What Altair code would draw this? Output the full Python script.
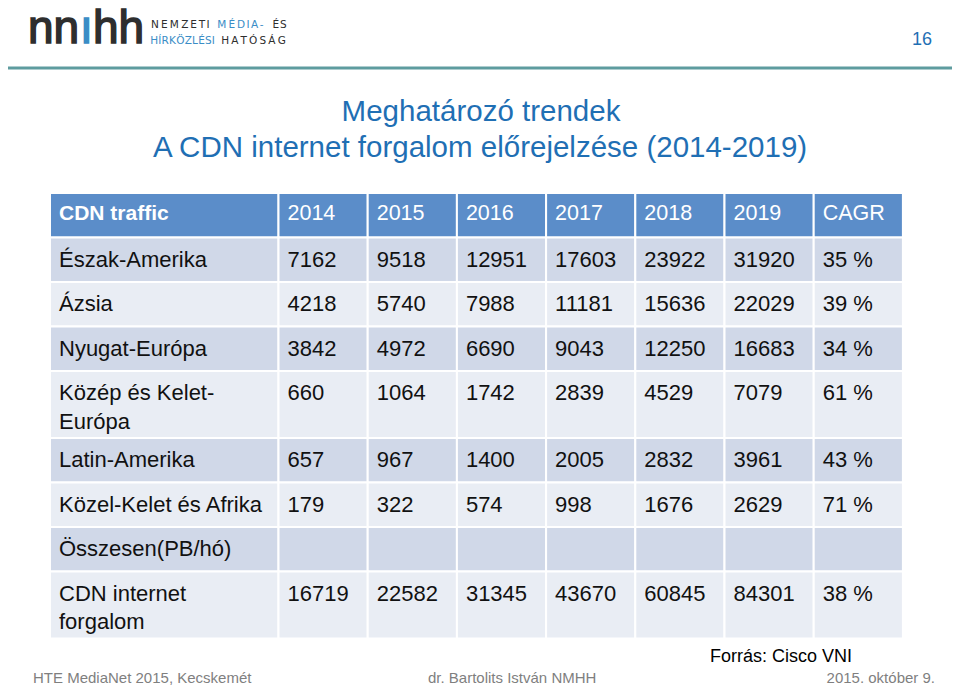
import altair as alt
import pandas as pd

# ---------------- data ----------------
columns = ["CDN traffic", "2014", "2015", "2016", "2017", "2018", "2019", "CAGR"]
regions = [
    ["Észak-Amerika"],
    ["Ázsia"],
    ["Nyugat-Európa"],
    ["Közép és Kelet-", "Európa"],
    ["Latin-Amerika"],
    ["Közel-Kelet és Afrika"],
    ["Összesen(PB/hó)"],
    ["CDN internet", "forgalom"],
]
v2014 = [7162, 4218, 3842, 660, 657, 179, None, 16719]
v2015 = [9518, 5740, 4972, 1064, 967, 322, None, 22582]
v2016 = [12951, 7988, 6690, 1742, 1400, 574, None, 31345]
v2017 = [17603, 11181, 9043, 2839, 2005, 998, None, 43670]
v2018 = [23922, 15636, 12250, 4529, 2832, 1676, None, 60845]
v2019 = [31920, 22029, 16683, 7079, 3961, 2629, None, 84301]
cagr = [35, 39, 34, 61, 43, 71, None, 38]

title_lines = ["Meghatározó trendek", "A CDN internet forgalom előrejelzése (2014-2019)"]
source_text = "Forrás: Cisco VNI"
footer_left = "HTE MediaNet 2015, Kecskemét"
footer_mid = "dr. Bartolits István NMHH"
footer_right = "2015. október 9."
page_no = "16"
logo_line1 = ["NEMZETI", "MÉDIA-", "ÉS"]
logo_line2 = ["HÍRKÖZLÉSI", "HATÓSÁG"]

# ---------------- layout ----------------
W, H = 944, 679
OFF = 8
TABLE_LEFT, TABLE_TOP = 50, 193
FIRST_COL_W, COL_W = 228.5, 89.2
ROW_H, ROW_H2 = 44.5, 67.0
HEADER_BLUE = "#5B8DC9"
BAND1, BAND2 = "#D0D8E8", "#E9EDF4"
TITLE_BLUE = "#1F6FB4"
LOGO_DARK, LOGO_BLUE = "#2E2E2E", "#3A8DC6"
FONT = "Liberation Sans"

col_edges = [TABLE_LEFT, TABLE_LEFT + FIRST_COL_W]
for _ in range(len(columns) - 1):
    col_edges.append(col_edges[-1] + COL_W)

row_heights = [ROW_H] + [ROW_H2 if len(r) > 1 else ROW_H for r in regions]
row_edges = [TABLE_TOP]
for h in row_heights:
    row_edges.append(row_edges[-1] + h)

series = [v2014, v2015, v2016, v2017, v2018, v2019]

cells = []
for r in range(len(row_heights)):
    fill = HEADER_BLUE if r == 0 else (BAND1 if r % 2 == 1 else BAND2)
    for c in range(len(columns)):
        cells.append(dict(x0=col_edges[c], x1=col_edges[c + 1],
                          y0=row_edges[r], y1=row_edges[r + 1], fill=fill))
cells_df = pd.DataFrame(cells)

header_txt = []
for c, name in enumerate(columns):
    header_txt.append(dict(t=name, x=col_edges[c] + 9, y=row_edges[0] + 21, c=c))
header_df = pd.DataFrame(header_txt)

body_txt = []
for r, lines in enumerate(regions):
    top = row_edges[r + 1]
    for li, line in enumerate(lines):
        body_txt.append(dict(t=line, x=col_edges[0] + 9, y=top + 22 + li * 28.5))
    for s_i, s in enumerate(series):
        if s[r] is not None:
            body_txt.append(dict(t=str(s[r]), x=col_edges[s_i + 1] + 9, y=top + 22))
    if cagr[r] is not None:
        body_txt.append(dict(t=f"{cagr[r]} %", x=col_edges[7] + 9, y=top + 22))
body_df = pd.DataFrame(body_txt)

xs = alt.Scale(domain=[OFF, OFF + W], nice=False, zero=False)
ys = alt.Scale(domain=[OFF, OFF + H], nice=False, zero=False, reverse=True)
X = lambda f: alt.X(f, type="quantitative", scale=xs, axis=None)
Y = lambda f: alt.Y(f, type="quantitative", scale=ys, axis=None)

rects = alt.Chart(cells_df).mark_rect(stroke="white", strokeWidth=2).encode(
    x=X("x0"), x2="x1", y=Y("y0"), y2="y1",
    fill=alt.Fill("fill:N", scale=None))

header_b = alt.Chart(header_df[header_df.c == 0]).mark_text(
    align="left", baseline="middle", font=FONT, fontSize=21, color="white",
    fontWeight="bold"
).encode(x=X("x"), y=Y("y"), text="t:N")
header_n = alt.Chart(header_df[header_df.c > 0]).mark_text(
    align="left", baseline="middle", font=FONT, fontSize=21.5, color="white"
).encode(x=X("x"), y=Y("y"), text="t:N")

body = alt.Chart(body_df).mark_text(
    align="left", baseline="middle", font=FONT, fontSize=22, color="#111111"
).encode(x=X("x"), y=Y("y"), text="t:N")

title_df = pd.DataFrame(dict(t=title_lines, x=[481, 480], y=[121, 157]))
title = alt.Chart(title_df).mark_text(
    align="center", baseline="alphabetic", font=FONT, fontSize=29.5, color=TITLE_BLUE
).encode(x=X("x"), y=Y("y"), text="t:N")

rule_df = pd.DataFrame(dict(x0=[OFF], x1=[OFF + W], y=[68]))
rule = alt.Chart(rule_df).mark_rule(color="#5E9C9F", strokeWidth=3).encode(
    x=X("x0"), x2="x1", y=Y("y"))

page_df = pd.DataFrame(dict(t=[page_no], x=[932], y=[40]))
page = alt.Chart(page_df).mark_text(
    align="right", baseline="middle", font=FONT, fontSize=18, color=TITLE_BLUE
).encode(x=X("x"), y=Y("y"), text="t:N")

src_df = pd.DataFrame(dict(t=[source_text], x=[710], y=[657]))
src = alt.Chart(src_df).mark_text(
    align="left", baseline="middle", font=FONT, fontSize=18, color="#000000"
).encode(x=X("x"), y=Y("y"), text="t:N")

foot_df = pd.DataFrame(dict(t=[footer_left, footer_mid, footer_right],
                            x=[33, 428, 935], y=[682.5, 682.5, 682.5]))
foot_l = alt.Chart(foot_df.iloc[:2]).mark_text(
    align="left", baseline="alphabetic", font=FONT, fontSize=15, color="#7F7F7F"
).encode(x=X("x"), y=Y("y"), text="t:N")
foot_r = alt.Chart(foot_df.iloc[2:]).mark_text(
    align="right", baseline="alphabetic", font=FONT, fontSize=15, color="#7F7F7F"
).encode(x=X("x"), y=Y("y"), text="t:N")

# ---------------- logo ----------------
logo_letters = pd.DataFrame(dict(
    t=["n", "n", "ı", "h", "h"],
    x=[28, 53.6, 80, 93, 118.6],
    c=[LOGO_DARK, LOGO_DARK, LOGO_BLUE, LOGO_DARK, LOGO_DARK]))
logo_letters["y"] = 43
logo = alt.Chart(logo_letters).mark_text(
    align="left", baseline="alphabetic", font=FONT, fontSize=46, strokeWidth=1.5
).encode(x=X("x"), y=Y("y"), text="t:N",
         color=alt.Color("c:N", scale=None),
         stroke=alt.Stroke("c:N", scale=None))

# letter-spaced words: spread glyphs over each word's span
glyph_w = {"N": .748, "E": .632, "M": .863, "Z": .685, "T": .611, "I": .295,
           "É": .632, "D": .770, "A": .684, "-": .361, "S": .635, "H": .752,
           "Í": .295, "R": .695, "K": .656, "Ö": .787, "L": .557, "Ó": .787,
           "G": .775, "Á": .684}
word_spans = [(logo_line1[0], 150, 210, 28, LOGO_DARK),
              (logo_line1[1], 216, 264, 28, LOGO_BLUE),
              (logo_line1[2], 272, 287, 28, LOGO_DARK),
              (logo_line2[0], 150, 215, 43.5, LOGO_BLUE),
              (logo_line2[1], 220, 287, 43.5, LOGO_DARK)]
chars = []
for word, x0, x1, yb, col in word_spans:
    ws = [glyph_w.get(ch, .6) for ch in word]
    tot = sum(ws)
    cum = 0.0
    for ch, w in zip(word, ws):
        chars.append(dict(t=ch, x=x0 + (cum + w / 2) / tot * (x1 - x0), y=yb, c=col))
        cum += w
logo_chars = pd.DataFrame(chars)
logo_txt = alt.Chart(logo_chars).mark_text(
    align="center", baseline="alphabetic", font="DejaVu Sans", fontSize=10.5
).encode(x=X("x"), y=Y("y"), text="t:N", color=alt.Color("c:N", scale=None))

chart = alt.layer(rects, header_b, header_n, body, title, rule, page, src,
                  foot_l, foot_r, logo, logo_txt).properties(
    width=W, height=H, autosize="none", padding=0
).configure_view(stroke=None)

chart.save("out.html", embed_options={"renderer": "svg", "actions": False})
